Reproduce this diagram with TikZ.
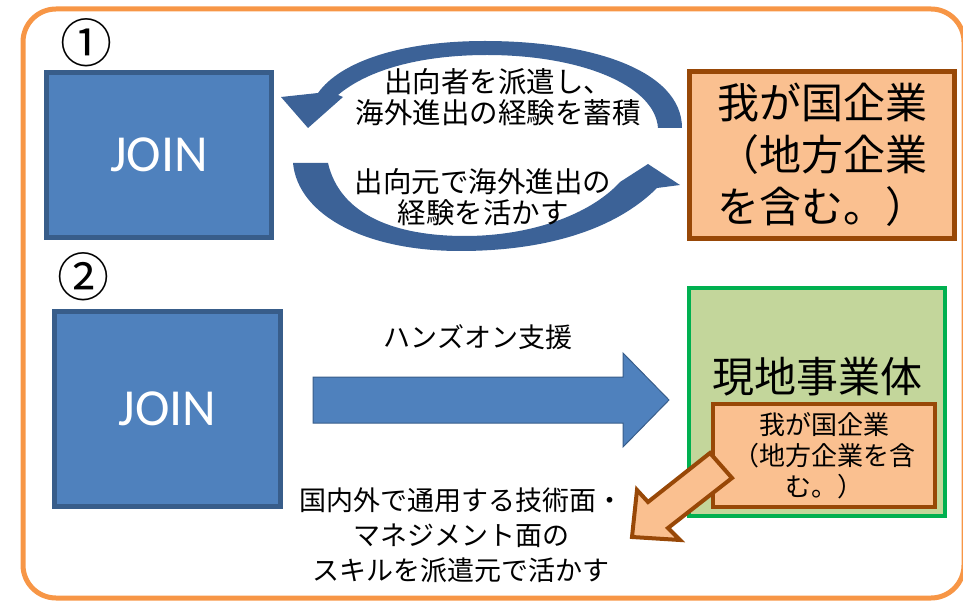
\documentclass[tikz,border=0pt]{standalone}
\usepackage{fontspec}
\setmainfont{Noto Sans CJK JP}
\newfontfamily\carlito{Carlito}
\definecolor{frameor}{HTML}{F79646}
\definecolor{boxblue}{HTML}{4F81BD}
\definecolor{boxblueline}{HTML}{385D8A}
\definecolor{cycblue}{HTML}{3C6297}
\definecolor{peach}{HTML}{FAC090}
\definecolor{brownline}{HTML}{984807}
\definecolor{greenfill}{HTML}{C3D69B}
\definecolor{greenline}{HTML}{00B050}
\begin{document}
\begin{tikzpicture}[x=1pt,y=-1pt,
  joinbox/.style={draw=boxblueline, fill=boxblue, line width=5pt, inner sep=0pt,
    text=white, font=\carlito\fontsize{52pt}{52pt}\selectfont},
  firmbox/.style={draw=brownline, fill=peach, line width=5pt, inner sep=0pt,
    align=center, font=\fontsize{42pt}{52pt}\selectfont},
  smalltext/.style={align=center, inner sep=0pt, font=\fontsize{27pt}{31pt}\selectfont},
  cyctext/.style={align=center, inner sep=0pt, font=\fontsize{28.5pt}{31pt}\selectfont},
  numlabel/.style={inner sep=0pt, font=\fontsize{52pt}{52pt}\selectfont}]
\useasboundingbox (0,0) rectangle (963,601);
% outer frame
\draw[frameor, line width=5pt, rounded corners=33pt] (23,9) rectangle (964,598);

% numbers
\node[numlabel] (n1) at (86,43) {①};
\node[numlabel] (n2) at (83,277) {②};

% part 1
\node[joinbox, minimum width=225pt, minimum height=165pt] (join1) at (159,155) {JOIN};
\node[firmbox, minimum width=265pt, minimum height=167pt] (firm1) at (822,155)
  {我が国企業\\（地方企業\\を含む。）};

% cycle arrows
\fill[cycblue] (682,128) .. controls (682,70) and (590,41) .. (485,41)
  .. controls (400,41) and (340,62) .. (318,93) -- (281,97) -- (308,128) -- (343,97)
  -- (338,95) .. controls (370,68) and (425,55) .. (487,55)
  .. controls (580,55) and (655,85) .. (658,128) -- cycle;
\fill[cycblue] (293,163) -- (328,163) .. controls (340,215) and (395,236) .. (465,236)
  .. controls (530,236) and (590,215) .. (620,182) -- (648,164) -- (680,185) -- (657,188)
  .. controls (615,230) and (545,251) .. (460,251)
  .. controls (365,251) and (298,215) .. (293,163) -- cycle;
\node[cyctext] (t1) at (498,97) {出向者を派遣し、\\海外進出の経験を蓄積};
\node[cyctext] (t2) at (483,197) {出向元で海外進出の\\経験を活かす};

% part 2
\node[joinbox, minimum width=226pt, minimum height=195pt] (join2) at (167.5,409) {JOIN};
\node[draw=greenline, fill=greenfill, line width=4.5pt, minimum width=256pt,
  minimum height=228pt, inner sep=0pt] (local) at (817,402) {};
\node[inner sep=0pt, font=\fontsize{42pt}{42pt}\selectfont] (localtext) at (817,377) {現地事業体};
\node[draw=brownline, fill=peach, line width=4.5pt, minimum width=222pt,
  minimum height=103pt, inner sep=0pt, align=center,
  font=\fontsize{26pt}{31pt}\selectfont] (firm2) at (824,455.5)
  {我が国企業\\（地方企業を含\\む。）};

% hands-on block arrow
\draw[boxblueline, fill=boxblue, line width=1pt] (313,377) -- (623,377) -- (623,353)
  -- (669,400) -- (623,447) -- (623,423) -- (313,423) -- cycle;
\node[smalltext] (hands) at (478,337) {ハンズオン支援};

% orange return arrow
\draw[brownline, fill=peach, line width=4pt, line join=miter]
  (710,453) -- (732,478) -- (668,528) -- (680,540) -- (632,537) -- (637,490) -- (648,502) -- cycle;

\node[align=center, inner sep=0pt, font=\fontsize{27pt}{35pt}\selectfont] (skill) at (461,535)
  {国内外で通用する技術面・\\マネジメント面の\\スキルを派遣元で活かす};
\end{tikzpicture}
\end{document}
